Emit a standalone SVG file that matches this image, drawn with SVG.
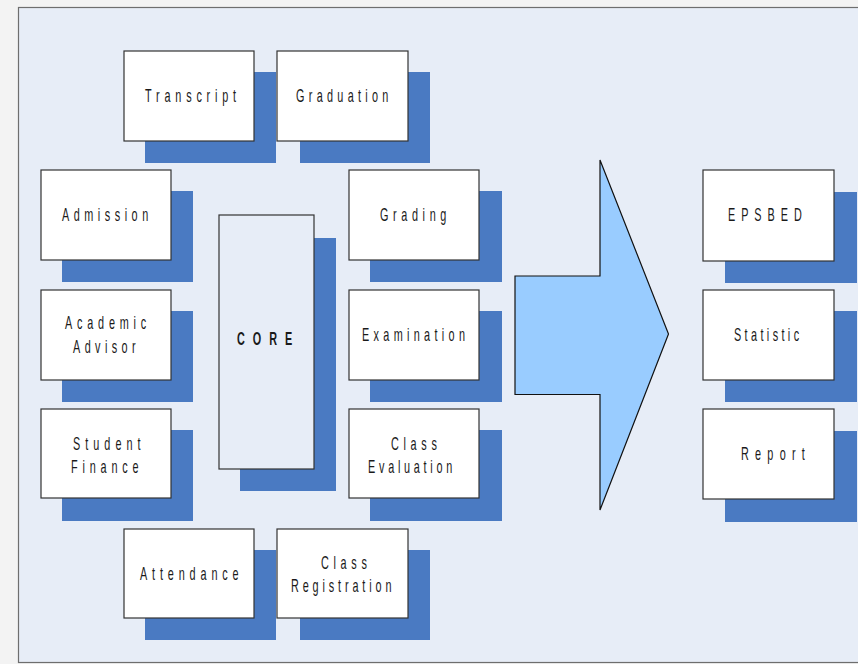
<svg xmlns="http://www.w3.org/2000/svg" width="858" height="664" viewBox="0 0 858 664">
<style>
.sh{fill:#4A7AC2}
.bx{fill:#FFFFFF;stroke:#333333;stroke-width:1.2}
.core{fill:#E7EDF7;stroke:#333333;stroke-width:1.2}
.t{font-family:"Liberation Sans",Arial,sans-serif;font-size:17.5px;fill:#1A1A1A}
.b{font-weight:bold}
</style>
<rect x="0" y="0" width="858" height="664" fill="#F3F3F3"/>
<rect x="18.5" y="7.5" width="850" height="655" fill="#E7EDF7" stroke="#6E6E6E" stroke-width="1.2"/>

<g id="transcript">
<rect class="sh" x="145" y="72" width="131" height="91"/>
<rect class="bx" x="124" y="51" width="130" height="90"/>
<text class="t" transform="translate(145,102) scale(0.62,1)" textLength="147" lengthAdjust="spacing">Transcript</text>
</g>
<g id="graduation">
<rect class="sh" x="300" y="72" width="130" height="91"/>
<rect class="bx" x="277" y="51" width="131" height="90"/>
<text class="t" transform="translate(296,102) scale(0.62,1)" textLength="149" lengthAdjust="spacing">Graduation</text>
</g>
<g id="admission">
<rect class="sh" x="62" y="191" width="131" height="91"/>
<rect class="bx" x="41" y="170" width="130" height="90"/>
<text class="t" transform="translate(62,221) scale(0.62,1)" textLength="139" lengthAdjust="spacing">Admission</text>
</g>
<g id="academic-advisor">
<rect class="sh" x="62" y="311" width="131" height="91"/>
<rect class="bx" x="41" y="290" width="130" height="90"/>
<text class="t" transform="translate(65,329) scale(0.62,1)" textLength="131" lengthAdjust="spacing">Academic</text>
<text class="t" transform="translate(73,353) scale(0.62,1)" textLength="101" lengthAdjust="spacing">Advisor</text>
</g>
<g id="student-finance">
<rect class="sh" x="62" y="430" width="131" height="91"/>
<rect class="bx" x="41" y="409" width="130" height="89"/>
<text class="t" transform="translate(73,450) scale(0.62,1)" textLength="109" lengthAdjust="spacing">Student</text>
<text class="t" transform="translate(71,473) scale(0.62,1)" textLength="109" lengthAdjust="spacing">Finance</text>
</g>
<g id="attendance">
<rect class="sh" x="145" y="550" width="131" height="90"/>
<rect class="bx" x="124" y="529" width="130" height="89"/>
<text class="t" transform="translate(140,580) scale(0.62,1)" textLength="159" lengthAdjust="spacing">Attendance</text>
</g>
<g id="class-registration">
<rect class="sh" x="300" y="550" width="130" height="90"/>
<rect class="bx" x="277" y="529" width="131" height="89"/>
<text class="t" transform="translate(321,569) scale(0.62,1)" textLength="74" lengthAdjust="spacing">Class</text>
<text class="t" transform="translate(291,592) scale(0.62,1)" textLength="162" lengthAdjust="spacing">Registration</text>
</g>
<g id="core">
<rect class="sh" x="240" y="238" width="96" height="253"/>
<rect class="core" x="219" y="215" width="95" height="254"/>
<text class="t b" transform="translate(237,345) scale(0.62,1)" textLength="89" lengthAdjust="spacing">CORE</text>
</g>
<g id="grading">
<rect class="sh" x="370" y="191" width="132" height="91"/>
<rect class="bx" x="349" y="170" width="130" height="90"/>
<text class="t" transform="translate(380,221) scale(0.62,1)" textLength="107" lengthAdjust="spacing">Grading</text>
</g>
<g id="examination">
<rect class="sh" x="370" y="311" width="132" height="91"/>
<rect class="bx" x="349" y="290" width="130" height="90"/>
<text class="t" transform="translate(362,341) scale(0.62,1)" textLength="166" lengthAdjust="spacing">Examination</text>
</g>
<g id="class-evaluation">
<rect class="sh" x="370" y="430" width="132" height="91"/>
<rect class="bx" x="349" y="409" width="130" height="89"/>
<text class="t" transform="translate(391,450) scale(0.62,1)" textLength="74" lengthAdjust="spacing">Class</text>
<text class="t" transform="translate(368,473) scale(0.62,1)" textLength="136" lengthAdjust="spacing">Evaluation</text>
</g>
<g id="epsbed">
<rect class="sh" x="725" y="192" width="132" height="91"/>
<rect class="bx" x="703" y="170" width="131" height="91"/>
<text class="t" transform="translate(728,221) scale(0.62,1)" textLength="119" lengthAdjust="spacing">EPSBED</text>
</g>
<g id="statistic">
<rect class="sh" x="725" y="311" width="132" height="91"/>
<rect class="bx" x="703" y="290" width="131" height="90"/>
<text class="t" transform="translate(734,341) scale(0.62,1)" textLength="105" lengthAdjust="spacing">Statistic</text>
</g>
<g id="report">
<rect class="sh" x="725" y="431" width="132" height="91"/>
<rect class="bx" x="703" y="409" width="131" height="90"/>
<text class="t" transform="translate(741,460) scale(0.62,1)" textLength="103" lengthAdjust="spacing">Report</text>
</g>

<g id="connectors">
<polygon points="515,276 600,276 600,160 668.5,334 600,510 600,394.5 515,394.5" fill="#99CCFF" stroke="#111111" stroke-width="1.2" stroke-linejoin="miter"/>
</g>
</svg>
